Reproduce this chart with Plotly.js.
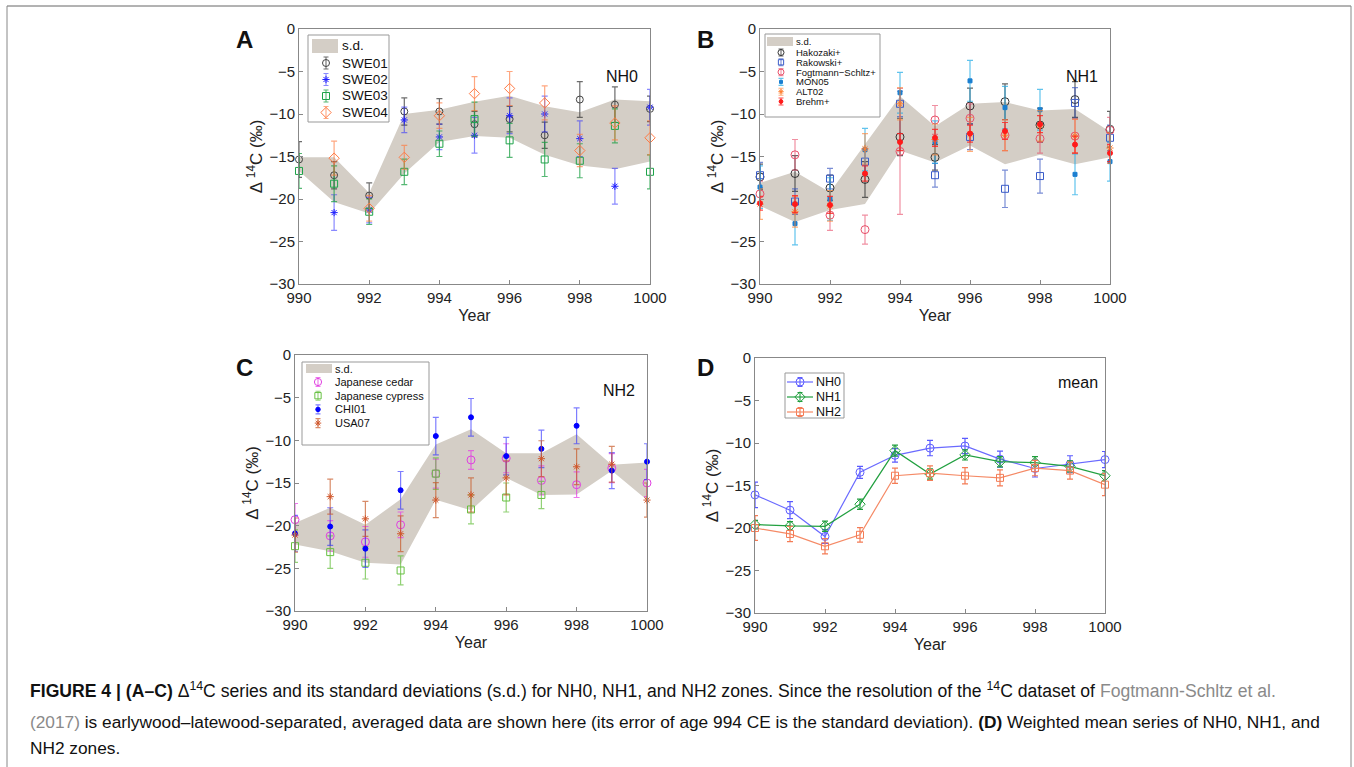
<!DOCTYPE html>
<html><head><meta charset="utf-8">
<script src="https://cdn.plot.ly/plotly-3.0.1.min.js"></script>
<style>html,body{margin:0;padding:0;background:#fff;}#chart{width:1354px;height:767px;}</style>
</head><body><div id="chart"></div>
<script>
const years = [990,991,992,993,994,995,996,997,998,999,1000];

// Panel A (NH0)
const swe01 = [-15.35,-17.2,-19.6,-9.7,-9.7,-11.2,-10.6,-12.5,-8.3,-8.9,-9.4];
const swe01Err = [2.1,1.6,1.5,1.6,1.5,1.5,1.5,1.55,2.1,2.1,1.5];
const swe02 = [null,-21.6,-21.3,-10.7,-12.7,-12.5,-10.2,-10.0,-12.9,-18.5,-9.2];
const swe02Err = [null,2.1,1.5,1.5,1.5,2.1,2.1,2.1,2.1,2.1,2.1];
const swe03 = [-16.7,-18.2,-21.5,-16.8,-13.5,-10.6,-13.1,-15.35,-15.5,-11.4,-16.8];
const swe03Err = [2.05,2.1,1.5,1.5,1.5,2,2,2,2,2,2];
const swe04 = [null,-15.2,-21.1,-15.1,-10.2,-7.6,-7.0,-8.7,-14.3,-11.05,-12.8];
const swe04Err = [null,2,1.5,1.4,1.5,2,2,2,1.9,2,2];
const sdUpperA = [-15.1,-15.1,-19.3,-10.0,-9.5,-8.55,-7.85,-9.1,-9.8,-8.3,-8.5];
const sdLowerA = [-16.7,-20.35,-21.7,-17.0,-13.3,-12.6,-12.8,-14.8,-16.05,-16.5,-15.6];

// Panel B (NH1)
const hako = [-17.4,-17.0,-18.7,-17.7,-12.7,-15.1,-9.06,-8.55,-11.3,-8.3,-11.8];
const hakoErr = [1.5,2.1,1.5,2.1,2.2,1.5,2.1,2.1,2.0,2.1,2.1];
const rako = [-17.2,-20.3,-17.6,-15.6,-8.8,-17.2,-12.7,-18.8,-17.3,-8.7,-12.8];
const rakoErr = [1.5,1.5,1.2,1.5,1.5,1.4,1.5,2.2,2.0,1.8,1.5];
const fogt = [-19.4,-14.8,-21.9,-23.6,-14.4,-10.7,-10.5,-12.5,-12.9,-12.6,-11.9];
const fogtErr = [1.5,1.8,1.8,1.7,7.4,1.7,1.7,1.8,1.7,2.0,1.5];
const mon05 = [-18.6,-22.9,-20.0,-14.2,-7.5,-13.3,-6.1,-9.25,-9.5,-17.1,-15.6];
const mon05Err = [2.5,2.5,2.5,2.5,2.4,2.5,2.4,2.5,2.4,2.4,2.3];
const alt02 = [-20.6,-21.5,-20.8,-14.1,-8.8,-13.0,-12.4,-12.5,-11.4,-12.6,-14.0];
const alt02Err = [1.8,1.8,1.8,1.8,1.9,1.8,2.0,1.8,1.8,2.0,1.8];
const brehm = [-20.5,-20.6,-20.7,-17.0,-13.3,-12.8,-12.3,-12.0,-11.2,-13.6,-14.6];
const brehmErr = [0.8,1.0,1.0,0.9,1.0,1.0,1.0,1.0,1.0,1.0,1.0];
const sdUpperB = [-18.1,-16.8,-19.2,-13.6,-7.9,-11.45,-8.8,-8.6,-9.6,-9.4,-12.1];
const sdLowerB = [-20.8,-22.7,-21.3,-20.6,-14.3,-15.7,-13.7,-15.9,-14.8,-15.9,-15.1];

// Panel C (NH2)
const cedar = [-19.3,-21.2,-21.9,-19.9,-13.9,-12.3,-12.1,-14.7,-15.2,-13.25,-15.0];
const cedarErr = [1.9,1.8,1.8,1.5,1.7,1.1,1.7,1.7,1.5,1.7,1.6];
const cypress = [-22.4,-23.1,-24.35,-25.25,-13.9,-18.1,-16.7,-16.4,null,null,null];
const cypressErr = [1.9,1.9,1.9,1.7,1.85,1.7,1.7,1.6,null,null,null];
const chi01 = [-20.9,-20.1,-22.7,-15.85,-9.5,-7.3,-11.85,-11.0,-8.3,-13.55,-12.5];
const chi01Err = [2.1,2.2,2.2,2.2,2.2,2.2,2.2,2.2,2.1,2.1,2.1];
const usa07 = [-21.1,-16.6,-19.2,-20.95,-17.0,-16.4,-14.4,-12.15,-13.1,-12.8,-17.0];
const usa07Err = [2,2.05,2.05,2.1,2.05,2,2,2.1,2.1,2.1,2];
const sdUpperC = [-19.7,-17.9,-19.9,-16.9,-10.5,-8.7,-11.5,-11.5,-9.3,-12.85,-12.6];
const sdLowerC = [-22.2,-23.0,-24.35,-24.55,-16.95,-18.2,-14.4,-16.4,-16.35,-13.55,-17.0];

// Panel D (mean)
const nh0 = [-16.1,-17.9,-21.0,-13.45,-11.45,-10.6,-10.35,-11.9,-13.0,-12.5,-11.95];
const nh0Err = [1.5,1.0,0.8,0.7,0.8,0.9,0.9,0.95,1.0,1.0,0.95];
const nh1 = [-19.6,-19.75,-19.8,-17.2,-10.9,-13.65,-11.4,-12.2,-12.3,-12.75,-13.85];
const nh1Err = [0.5,0.5,0.6,0.6,0.65,0.6,0.6,0.6,0.7,0.65,0.6];
const nh2 = [-20.0,-20.7,-22.15,-20.8,-13.85,-13.55,-13.85,-14.1,-12.95,-13.25,-14.9];
const nh2Err = [1.45,0.9,0.9,0.85,0.9,0.85,0.95,0.95,0.9,1.0,1.3];

const xTicks = [990,992,994,996,998,1000];
const yTicks = [-30,-25,-20,-15,-10,-5,0];

const FONT = 'Liberation Sans, Arial, sans-serif';
const BAND = '#d4cec6';
const W = 1354, H = 767;

// series styles
const S = {
  swe01:{name:'SWE01', sym:'circle-open', size:7, c:'#444', e:'rgba(60,60,60,0.75)'},
  swe02:{name:'SWE02', sym:'asterisk-open', size:6, c:'#2020ff', e:'rgba(40,40,255,0.55)'},
  swe03:{name:'SWE03', sym:'square-open', size:7, c:'#1ea34a', e:'rgba(30,160,70,0.75)'},
  swe04:{name:'SWE04', sym:'diamond-open', size:8, c:'#ff7a45', e:'rgba(255,120,60,0.65)'},
  hako:{name:'Hakozaki+', sym:'circle-open', size:8, c:'#333', e:'rgba(50,50,50,0.75)'},
  rako:{name:'Rakowski+', sym:'square-open', size:7, c:'#3a5cc8', e:'rgba(50,80,190,0.65)'},
  fogt:{name:'Fogtmann−Schltz+', sym:'circle-open', size:8, c:'#e8506a', e:'rgba(230,70,100,0.6)'},
  mon05:{name:'MON05', sym:'square', size:4, c:'#1a7fd0', e:'rgba(30,170,230,0.7)'},
  alt02:{name:'ALT02', sym:'asterisk-open', size:6, c:'#ff7f30', e:'rgba(255,130,50,0.65)'},
  brehm:{name:'Brehm+', sym:'circle', size:5, c:'#ff1a1a', e:'rgba(255,30,30,0.8)'},
  cedar:{name:'Japanese cedar', sym:'circle-open', size:8, c:'#e040e0', e:'rgba(230,60,230,0.7)'},
  cypress:{name:'Japanese cypress', sym:'square-open', size:7, c:'#66c040', e:'rgba(100,190,60,0.7)'},
  chi01:{name:'CHI01', sym:'circle', size:5, c:'#0000ff', e:'rgba(40,40,255,0.6)'},
  usa07:{name:'USA07', sym:'asterisk-open', size:6, c:'#d0562a', e:'rgba(200,90,40,0.7)'},
  nh0:{name:'NH0', sym:'circle-open', size:8, c:'#5b5bff', e:'#5b5bff', line:'#6a6aff'},
  nh1:{name:'NH1', sym:'diamond-open', size:8, c:'#1f9e3c', e:'#1f9e3c', line:'#22a040'},
  nh2:{name:'NH2', sym:'square-open', size:7, c:'#f47c56', e:'#f47c56', line:'#f58a66'}
};

function axn(ax){ return ax==='1'?['x','y']:['x'+ax,'y'+ax]; }
function band(ax, up, lo){
  const [xa,ya] = axn(ax);
  return [
    {x:years, y:lo, xaxis:xa, yaxis:ya, mode:'lines', line:{width:0}, showlegend:false, hoverinfo:'skip'},
    {x:years, y:up, xaxis:xa, yaxis:ya, mode:'lines', line:{width:0}, fill:'tonexty', fillcolor:BAND, showlegend:false, hoverinfo:'skip'}
  ];
}
function pts(ax, st, y, err){
  const [xa,ya] = axn(ax);
  const t = {x:years, y:y, xaxis:xa, yaxis:ya, name:st.name, mode:st.line?'lines+markers':'markers', showlegend:false, cliponaxis:false,
    marker:{symbol:st.sym, size:st.size, color:st.c, line:{color:st.c, width:1}},
    error_y:{type:'data', array:err, visible:true, color:st.e, thickness:1.2, width:3}};
  if (st.line) t.line = {color:st.line, width:1.2};
  return t;
}

const traces = [];
traces.push(...band('1', sdUpperA, sdLowerA));
traces.push(pts('1',S.swe01,swe01,swe01Err), pts('1',S.swe02,swe02,swe02Err), pts('1',S.swe03,swe03,swe03Err), pts('1',S.swe04,swe04,swe04Err));
traces.push(...band('2', sdUpperB, sdLowerB));
traces.push(pts('2',S.hako,hako,hakoErr), pts('2',S.rako,rako,rakoErr), pts('2',S.fogt,fogt,fogtErr),
            pts('2',S.mon05,mon05,mon05Err), pts('2',S.alt02,alt02,alt02Err), pts('2',S.brehm,brehm,brehmErr));
traces.push(...band('3', sdUpperC, sdLowerC));
traces.push(pts('3',S.cedar,cedar,cedarErr), pts('3',S.cypress,cypress,cypressErr), pts('3',S.chi01,chi01,chi01Err), pts('3',S.usa07,usa07,usa07Err));
traces.push(pts('4',S.nh0,nh0,nh0Err), pts('4',S.nh1,nh1,nh1Err), pts('4',S.nh2,nh2,nh2Err));

// custom legends (pixel overlay axis x5/y5)
const shapes = [], annotations = [];
function legendBox(cfg){
  shapes.push({type:'rect', xref:'paper', yref:'paper', x0:cfg.box[0]/W, x1:cfg.box[2]/W, y0:1-cfg.box[3]/H, y1:1-cfg.box[1]/H,
    line:{color:'#999', width:1}, fillcolor:'rgba(255,255,255,0)', layer:'above'});
  if (cfg.sw){
    const s = cfg.sw;
    shapes.push({type:'rect', xref:'paper', yref:'paper', x0:s[0]/W, x1:s[2]/W, y0:1-s[3]/H, y1:1-s[1]/H, line:{width:0}, fillcolor:BAND, layer:'above'});
    annotations.push({text:'s.d.', x:cfg.tx/W, y:1-((s[1]+s[3])/2)/H, xref:'paper', yref:'paper', showarrow:false, xanchor:'left', yanchor:'middle',
      font:{size:cfg.font, family:FONT, color:'#111'}});
  }
  cfg.entries.forEach((st,i)=>{
    const yy = cfg.y0 + i*cfg.dy;
    const t = {x:[cfg.sx], y:[yy], xaxis:'x5', yaxis:'y5', mode:'markers', showlegend:false, cliponaxis:false, hoverinfo:'skip',
      marker:{symbol:st.sym, size:st.size*cfg.ms, color:st.c, line:{color:st.c, width:1}},
      error_y:{type:'constant', value:cfg.eb, visible:true, color:st.e, thickness:1.1, width:2.5}};
    traces.push(t);
    if (st.line){
      traces.push({x:[cfg.sx-cfg.lw, cfg.sx+cfg.lw], y:[yy,yy], xaxis:'x5', yaxis:'y5', mode:'lines', showlegend:false, cliponaxis:false,
        hoverinfo:'skip', line:{color:st.line, width:1.2}});
    }
    annotations.push({text:st.name, x:cfg.tx/W, y:1-yy/H, xref:'paper', yref:'paper', showarrow:false, xanchor:'left', yanchor:'middle',
      font:{size:cfg.font, family:FONT, color:'#111'}});
  });
}
legendBox({box:[308,35,389,122], sw:[312,39,338,53], y0:63, dy:16.5, sx:326, tx:340, font:13.5, eb:6, ms:1,
  entries:[S.swe01,S.swe02,S.swe03,S.swe04]});
legendBox({box:[765,34,880,117], sw:[767,37,793,46], y0:52.5, dy:9.8, sx:781, tx:794, font:9.5, eb:3.5, ms:0.75,
  entries:[S.hako,S.rako,S.fogt,S.mon05,S.alt02,S.brehm]});
legendBox({box:[302,362,429,445], sw:[306,364,332,373], y0:382, dy:13.7, sx:318, tx:333, font:11, eb:4.5, ms:0.9,
  entries:[S.cedar,S.cypress,S.chi01,S.usa07]});
legendBox({box:[785,373,844,418], sw:null, y0:382, dy:15, sx:800, tx:814, font:12.5, eb:4.5, ms:1, lw:13,
  entries:[S.nh0,S.nh1,S.nh2]});

function xax(l,r,anchor){
  return {domain:[l/W, r/W], range:[990,1000], tickvals:xTicks, ticks:'inside', ticklen:4, tickcolor:'#888',
    showline:true, mirror:true, linecolor:'#888', linewidth:1, showgrid:false, zeroline:false, anchor:anchor,
    tickfont:{size:15, color:'#222', family:FONT}, title:{text:'Year', font:{size:16, color:'#222', family:FONT}, standoff:4}};
}
function yax(t,b,anchor){
  return {domain:[1-b/H, 1-t/H], range:[-30,0], tickvals:yTicks, ticks:'inside', ticklen:4, tickcolor:'#888',
    showline:true, mirror:true, linecolor:'#888', linewidth:1, showgrid:false, zeroline:false, anchor:anchor,
    tickfont:{size:15, color:'#222', family:FONT}, title:{text:'Δ <sup>14</sup>C (‰)', font:{size:17, color:'#222', family:FONT}, standoff:2}};
}
function ann(text, px, py, size, bold, xanchor){
  return {text: bold?'<b>'+text+'</b>':text, x:px/W, y:1-py/H, xref:'paper', yref:'paper', showarrow:false,
    xanchor:xanchor||'center', yanchor:'middle', font:{size:size, family:FONT, color:'#111'}};
}

const cap1 = '<b>FIGURE 4 | (A–C)</b> Δ<sup>14</sup>C series and its standard deviations (s.d.) for NH0, NH1, and NH2 zones. Since the resolution of the <sup>14</sup>C dataset of <span style="color:#8a8a8a">Fogtmann-Schltz et al.</span>';
const cap2 = '<span style="color:#8a8a8a">(2017)</span> is earlywood–latewood-separated, averaged data are shown here (its error of age 994 CE is the standard deviation). <b>(D)</b> Weighted mean series of NH0, NH1, and';
const cap3 = 'NH2 zones.';

annotations.push(
  ann('A',244,40,24,true), ann('B',705,40,24,true), ann('C',244,367,24,true), ann('D',705,367,24,true),
  ann('NH0',640,76,16,false,'right'), ann('NH1',1100,76,16,false,'right'),
  ann('NH2',637,391,16,false,'right'), ann('mean',1100,382,16,false,'right'),
  Object.assign(ann(cap1,28,690,17.6,false,'left'),{align:'left'}),
  Object.assign(ann(cap2,28,722,17.3,false,'left'),{align:'left'}),
  Object.assign(ann(cap3,28,748,17.3,false,'left'),{align:'left'})
);
shapes.push(
  {type:'line', xref:'paper', yref:'paper', x0:7/W, x1:1351/W, y0:1-6/H, y1:1-6/H, line:{color:'#666', width:1}},
  {type:'line', xref:'paper', yref:'paper', x0:7/W, x1:7/W, y0:1-6/H, y1:0, line:{color:'#888', width:1}},
  {type:'line', xref:'paper', yref:'paper', x0:1351/W, x1:1351/W, y0:1-6/H, y1:0, line:{color:'#888', width:1}}
);

const layout = {
  width:W, height:H, margin:{l:0,r:0,t:0,b:0}, paper_bgcolor:'#fff', plot_bgcolor:'rgba(0,0,0,0)',
  font:{family:FONT, color:'#111'}, showlegend:false,
  xaxis:xax(299,650,'y'), yaxis:yax(29,284,'x'),
  xaxis2:xax(760,1110,'y2'), yaxis2:yax(29,284,'x2'),
  xaxis3:xax(295,647,'y3'), yaxis3:yax(355,611,'x3'),
  xaxis4:xax(755,1105,'y4'), yaxis4:yax(358,613,'x4'),
  xaxis5:{domain:[0,1], range:[0,W], visible:false, anchor:'y5', fixedrange:true},
  yaxis5:{domain:[0,1], range:[H,0], visible:false, anchor:'x5', fixedrange:true},
  annotations:annotations, shapes:shapes
};
Plotly.newPlot('chart', traces, layout, {displayModeBar:false, staticPlot:true});
</script></body></html>
